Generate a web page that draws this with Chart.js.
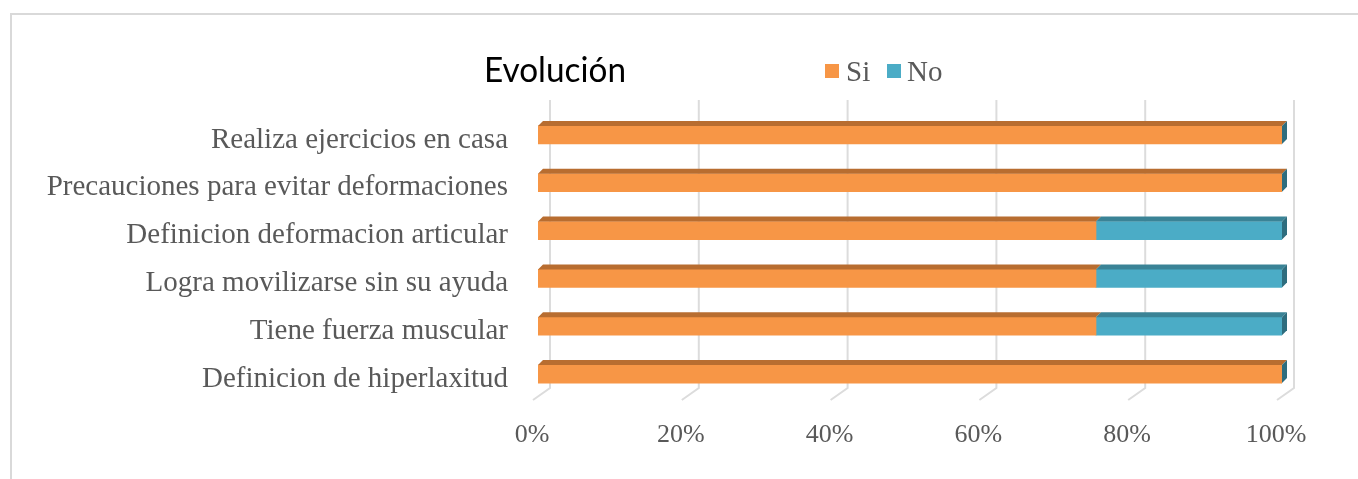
<!DOCTYPE html>
<html>
<head>
<meta charset="utf-8">
<script src="https://cdn.jsdelivr.net/npm/chart.js@4"></script>
<style>
  html, body { margin: 0; padding: 0; background: #fff; }
  #wrap { position: relative; width: 1358px; height: 479px; }
  #frame { position: absolute; left: 10px; top: 13px; right: -2px; bottom: -2px; border: 2px solid #d9d9d9; }
  canvas { position: absolute; left: 0; top: 0; }
</style>
</head>
<body>
<div id="wrap">
  <div id="frame"></div>
  <canvas id="c" width="1358" height="479"></canvas>
</div>
<script>
const categories = [
  "Realiza ejercicios en casa",
  "Precauciones para evitar deformaciones",
  "Definicion deformacion articular",
  "Logra movilizarse sin su ayuda",
  "Tiene fuerza muscular",
  "Definicion de hiperlaxitud"
];
const siValues = [100, 100, 75, 75, 75, 100];
const noValues = [0, 0, 25, 25, 25, 0];
const seriesNames = ["Si", "No"];
const chartTitle = "Evolución";
const tickValues = [0, 20, 40, 60, 80, 100];

const colors = {
  si: { front: "#F79646", top: "#B86D30", side: "#B86D30" },
  no: { front: "#4BACC6", top: "#3A8396", side: "#2E6D7E" }
};
const DEPTH_X = 5, DEPTH_Y = 5;

const decor = {
  id: "decor",
  beforeDatasetsDraw(chart) {
    const ctx = chart.ctx, x = chart.scales.x, a = chart.chartArea;
    ctx.save();
    ctx.strokeStyle = "#dcdcdc";
    ctx.lineWidth = 2;
    tickValues.forEach(v => {
      const px = x.getPixelForValue(v);
      ctx.beginPath();
      ctx.moveTo(px + 12, a.top - 11);
      ctx.lineTo(px + 12, a.bottom - 10);
      ctx.lineTo(px - 5, a.bottom + 2);
      ctx.stroke();
    });
    ctx.restore();
  },
  afterDatasetsDraw(chart) {
    const ctx = chart.ctx;
    ctx.save();
    const keys = ["si", "no"];
    chart.data.datasets.forEach((ds, di) => {
      const meta = chart.getDatasetMeta(di);
      const c = colors[keys[di]];
      meta.data.forEach(el => {
        const p = el.getProps(["x", "y", "base", "height"], true);
        const x0 = Math.min(p.base, p.x), x1 = Math.max(p.base, p.x);
        const y0 = p.y - p.height / 2, y1 = p.y + p.height / 2;
        if (x1 - x0 > 0.5) {
          ctx.fillStyle = c.top;
          ctx.beginPath();
          ctx.moveTo(x0, y0);
          ctx.lineTo(x0 + DEPTH_X, y0 - DEPTH_Y);
          ctx.lineTo(x1 + DEPTH_X, y0 - DEPTH_Y);
          ctx.lineTo(x1, y0);
          ctx.closePath();
          ctx.fill();
        }
        if (di === chart.data.datasets.length - 1) {
          ctx.fillStyle = c.side;
          ctx.beginPath();
          ctx.moveTo(x1, y0);
          ctx.lineTo(x1 + DEPTH_X, y0 - DEPTH_Y);
          ctx.lineTo(x1 + DEPTH_X, y1 - DEPTH_Y);
          ctx.lineTo(x1, y1);
          ctx.closePath();
          ctx.fill();
        }
      });
    });
    ctx.restore();
  },
  afterDraw(chart) {
    const ctx = chart.ctx;
    ctx.save();
    ctx.textBaseline = "alphabetic";
    ctx.fillStyle = "#000";
    ctx.font = "34px Lato, 'Open Sans', sans-serif";
    ctx.textAlign = "left";
    ctx.fillText(chartTitle, 484, 82, 142);
    const items = [
      { name: seriesNames[0], color: colors.si.front, sx: 825, tx: 846 },
      { name: seriesNames[1], color: colors.no.front, sx: 887, tx: 907 }
    ];
    ctx.font = "29px 'Liberation Serif', 'Times New Roman', serif";
    items.forEach(it => {
      ctx.fillStyle = it.color;
      ctx.fillRect(it.sx, 64, 14, 14);
      ctx.fillStyle = "#595959";
      ctx.fillText(it.name, it.tx, 81);
    });
    ctx.restore();
  }
};

new Chart(document.getElementById("c"), {
  type: "bar",
  data: {
    labels: categories,
    datasets: [
      { label: seriesNames[0], data: siValues, backgroundColor: colors.si.front, barThickness: 18, borderWidth: 0 },
      { label: seriesNames[1], data: noValues, backgroundColor: colors.no.front, barThickness: 18, borderWidth: 0 }
    ]
  },
  options: {
    indexAxis: "y",
    responsive: false,
    animation: false,
    layout: { padding: { top: 111, right: 76, left: 0, bottom: 0 } },
    plugins: { legend: { display: false }, title: { display: false }, tooltip: { enabled: false } },
    scales: {
      x: {
        stacked: true, min: 0, max: 100,
        afterBuildTicks(s) { s.ticks = tickValues.map(v => ({ value: v })); },
        afterFit(s) { s.height = 81; },
        grid: { display: false, drawTicks: false },
        border: { display: false },
        ticks: {
          callback: v => v + "%",
          color: "#595959",
          padding: 22,
          labelOffset: -6,
          maxRotation: 0,
          font: { family: "'Liberation Serif', 'Times New Roman', serif", size: 26 }
        }
      },
      y: {
        stacked: true,
        afterFit(s) { s.width = 538; },
        grid: { display: false, drawTicks: false },
        border: { display: false },
        ticks: {
          color: "#595959",
          padding: 30,
          labelOffset: 5,
          font: { family: "'Liberation Serif', 'Times New Roman', serif", size: 29 }
        }
      }
    }
  },
  plugins: [decor]
});
</script>
</body>
</html>
